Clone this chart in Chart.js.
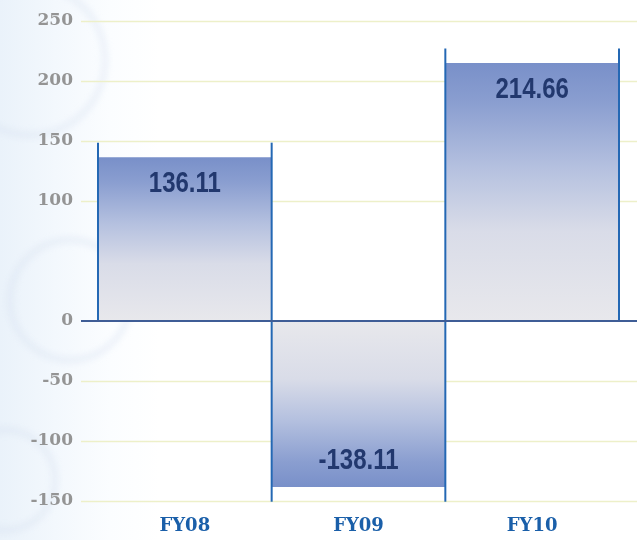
<!DOCTYPE html>
<html>
<head>
<meta charset="utf-8">
<script src="https://cdn.jsdelivr.net/npm/chart.js@4"></script>
<style>
  html, body { margin: 0; padding: 0; }
  body {
    width: 637px; height: 540px; overflow: hidden;
    background: linear-gradient(to right, #eaf2fa 0px, #f3f8fd 55px, #fbfdff 110px, #ffffff 160px);
  }
  #wrap { position: relative; width: 637px; height: 540px; }
</style>
</head>
<body>
<div id="wrap"><canvas id="chart" width="637" height="540"></canvas></div>
<script>
// Fiscal-year results
const categories = ['FY08', 'FY09', 'FY10'];
const values = [136.11, -138.11, 214.66];
const yTicks = [250, 200, 150, 100, 0, -50, -100, -150];

const GRID_LEFT = 81;
const GRID_RIGHT = 637;

function barGradient(context) {
  const chart = context.chart;
  const area = chart.chartArea;
  if (!area) return '#a9b8dc';
  const y = chart.scales.y;
  const v = values[context.dataIndex];
  const end = y.getPixelForValue(v);
  const base = y.getPixelForValue(0);
  const g = chart.ctx.createLinearGradient(0, end, 0, base);
  g.addColorStop(0, '#7990c9');
  g.addColorStop(0.15, '#8a9ed0');
  g.addColorStop(0.40, '#b4c0df');
  g.addColorStop(0.65, '#d9dce8');
  g.addColorStop(1, '#e8e8ec');
  return g;
}

// Faint decorative rings at the left edge
const backdrop = {
  id: 'backdrop',
  beforeDraw(chart) {
    const ctx = chart.ctx;
    ctx.save();
    ctx.filter = 'blur(3px)';
    ctx.strokeStyle = 'rgba(210,222,238,0.35)';
    ctx.lineWidth = 6;
    [[30, 60, 75], [70, 300, 60], [5, 480, 50]].forEach(([x, y, r]) => {
      ctx.beginPath(); ctx.arc(x, y, r, 0, Math.PI * 2); ctx.stroke();
    });
    ctx.restore();
  }
};

// Horizontal grid lines that run past the plot area
const wideGrid = {
  id: 'wideGrid',
  beforeDatasetsDraw(chart) {
    const ctx = chart.ctx;
    const y = chart.scales.y;
    ctx.save();
    ctx.strokeStyle = '#edf0c9';
    ctx.lineWidth = 1.5;
    yTicks.forEach(t => {
      if (t === 0) return;
      const py = Math.round(y.getPixelForValue(t)) + 0.5;
      ctx.beginPath(); ctx.moveTo(GRID_LEFT, py); ctx.lineTo(GRID_RIGHT, py); ctx.stroke();
    });
    ctx.restore();
  },
  afterDatasetsDraw(chart) {
    const ctx = chart.ctx;
    const y = chart.scales.y;
    const zero = y.getPixelForValue(0);
    ctx.save();
    // bar edge rules, extending past each bar's end
    ctx.strokeStyle = '#2468b4';
    ctx.lineWidth = 2;
    chart.getDatasetMeta(0).data.forEach((bar, i) => {
      const half = bar.width / 2;
      const dir = values[i] >= 0 ? -1 : 1;
      const endY = bar.y + dir * 15;
      [bar.x - half, bar.x + half].forEach(px => {
        ctx.beginPath(); ctx.moveTo(px, zero); ctx.lineTo(px, endY); ctx.stroke();
      });
    });
    // zero line
    ctx.strokeStyle = '#3f5d96';
    ctx.lineWidth = 2;
    ctx.beginPath(); ctx.moveTo(GRID_LEFT, zero); ctx.lineTo(GRID_RIGHT, zero); ctx.stroke();
    // value labels inside each bar, near its end (condensed lettering)
    ctx.fillStyle = '#22386e';
    ctx.font = 'bold 30px "Liberation Sans", Arial, sans-serif';
    ctx.textAlign = 'center';
    ctx.textBaseline = 'middle';
    chart.getDatasetMeta(0).data.forEach((bar, i) => {
      const dir = values[i] >= 0 ? 1 : -1;
      ctx.save();
      ctx.translate(bar.x, bar.y + dir * 26);
      ctx.scale(0.8, 1);
      ctx.fillText(values[i].toFixed(2), 0, 0);
      ctx.restore();
    });
    ctx.restore();
  }
};

new Chart(document.getElementById('chart'), {
  type: 'bar',
  data: {
    labels: categories,
    datasets: [{
      data: values,
      backgroundColor: barGradient,
      borderWidth: 0,
      barPercentage: 1,
      categoryPercentage: 1
    }]
  },
  options: {
    responsive: false,
    animation: false,
    layout: { padding: { top: 21, right: 18, left: 0, bottom: 0 } },
    plugins: { legend: { display: false }, tooltip: { enabled: false } },
    scales: {
      x: {
        grid: { display: false, drawTicks: false },
        border: { display: false },
        ticks: {
          color: '#1a5fa9',
          padding: 15,
          font: { family: '"DejaVu Serif", "Liberation Serif", serif', size: 18, weight: 'bold' }
        },
        afterFit(scale) { scale.height = 39; }
      },
      y: {
        min: -150,
        max: 250,
        afterBuildTicks(scale) { scale.ticks = yTicks.map(v => ({ value: v })); },
        grid: { display: false, drawTicks: false },
        border: { display: false },
        ticks: {
          color: '#949494',
          padding: 25,
          font: { family: '"DejaVu Serif", "Liberation Serif", serif', size: 17, weight: 'bold' }
        },
        afterFit(scale) {
          scale.width = 98;
          scale.paddingTop = 10;
          scale.paddingBottom = 10;
        }
      }
    }
  },
  plugins: [backdrop, wideGrid]
});
</script>
</body>
</html>
